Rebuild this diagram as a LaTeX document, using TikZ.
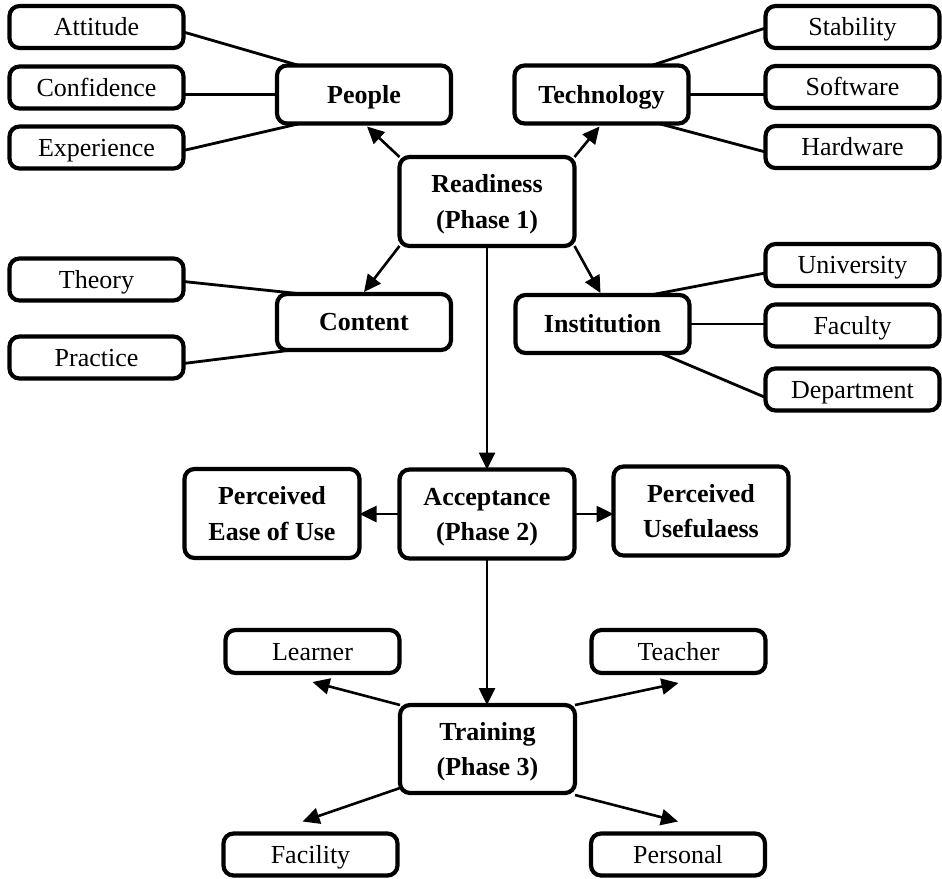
\documentclass[tikz,border=0pt]{standalone}
\usepackage{fontspec}
\setmainfont{Liberation Serif}
\usetikzlibrary{arrows.meta}
\begin{document}
\begin{tikzpicture}[x=1pt,y=-1pt,
  box/.style={draw=black,line width=4.2pt,rounded corners=10pt,inner sep=0pt,outer sep=0pt,
    align=center,text height=17.5pt,text depth=0pt,font=\fontsize{26}{34}\selectfont},
  leaf/.style={box,minimum width=174pt,minimum height=42pt},
  hub/.style={box,font=\fontsize{26}{34}\selectfont\bfseries,minimum width=174pt,minimum height=58pt},
  phase/.style={box,font=\fontsize{26}{35.5}\selectfont\bfseries,text height=53pt,text depth=0pt,
    minimum width=175pt,minimum height=89pt},
  link/.style={line width=2.8pt},
  arr/.style={line width=2.6pt,-{Triangle[length=17pt,width=16pt]}}]
\useasboundingbox (0,0) rectangle (942,878);

% top-left group
\node[leaf] (attitude) at (96.5,27) {Attitude};
\node[leaf] (confidence) at (96.5,87.5) {Confidence};
\node[leaf] (experience) at (96.5,147.5) {Experience};
\node[hub] (people) at (364,94.5) {People};

% top-right group
\node[hub] (technology) at (601.5,94.5) {Technology};
\node[leaf] (stability) at (852.5,27) {Stability};
\node[leaf] (software) at (852.5,87) {Software};
\node[leaf] (hardware) at (852.5,147) {Hardware};

% phase 1
\node[phase] (readiness) at (487,201.5) {Readiness\\(Phase 1)};

% middle-left group
\node[leaf] (theory) at (96.5,279.5) {Theory};
\node[leaf] (practice) at (96.5,357.5) {Practice};
\node[hub,minimum height=56pt] (content) at (364,322) {Content};

% middle-right group
\node[hub] (institution) at (602.5,324) {Institution};
\node[leaf] (university) at (852.5,265) {University};
\node[leaf] (faculty) at (852.5,325.5) {Faculty};
\node[leaf] (department) at (852.5,389.5) {Department};

% phase 2
\node[phase] (ease) at (272,513.5) {Perceived\\Ease of Use};
\node[phase] (acceptance) at (487,514) {Acceptance\\(Phase 2)};
\node[phase] (useful) at (701,511) {Perceived\\Usefulaess};

% phase 3
\node[leaf,minimum height=43pt] (learner) at (312.5,651.5) {Learner};
\node[leaf,minimum height=43pt] (teacher) at (678.5,651.5) {Teacher};
\node[phase,minimum height=88pt] (training) at (487.5,749) {Training\\(Phase 3)};
\node[leaf] (facility) at (310.5,854.5) {Facility};
\node[leaf] (personal) at (678,854.5) {Personal};

% plain links
\draw[link] ([yshift=-5pt]attitude.east) -- ([xshift=22pt]people.north west);
\draw[link] (confidence.east |- people.west) -- (people.west);
\draw[link] ([yshift=-3pt]experience.east) -- ([xshift=23pt]people.south west);

\draw[link] ([xshift=50pt]technology.north) -- ([yshift=-1pt]stability.west);
\draw[link] (technology.east) -- (technology.east -| software.west);
\draw[link] ([xshift=57pt]technology.south) -- ([yshift=-5pt]hardware.west);

\draw[link] ([yshift=-2pt]theory.east) -- ([xshift=25pt]content.north west);
\draw[link] ([yshift=-6pt]practice.east) -- ([xshift=15pt]content.south west);

\draw[link] ([yshift=-8pt]university.west) -- ([xshift=48pt]institution.north);
\draw[link] (institution.east) -- (institution.east -| faculty.west);
\draw[link] ([xshift=58pt]institution.south) -- ([yshift=-8pt]department.west);

% arrows from readiness
\draw[arr] (readiness.north west) -- ([xshift=3pt,yshift=-3pt]people.south);
\draw[arr] (readiness.north east) -- ([xshift=-2pt,yshift=-3pt]technology.south);
\draw[arr] (readiness.south west) -- ([yshift=2pt]content.north);
\draw[arr] (readiness.south east) -- ([xshift=-2pt,yshift=2pt]institution.north);
\draw[arr] (readiness.south) -- (readiness.south |- acceptance.north);

% arrows from acceptance
\draw[arr] (acceptance.west) -- (acceptance.west -| ease.east);
\draw[arr] (acceptance.east) -- (acceptance.east -| useful.west);
\draw[arr] (acceptance.south) -- (acceptance.south |- training.north);

% arrows from training
\draw[arr] (training.north west) -- ([yshift=-9pt]learner.south);
\draw[arr] (training.north east) -- ([yshift=-10pt]teacher.south);
\draw[arr] ([yshift=5pt]training.south west) -- ([xshift=-8pt,yshift=12pt]facility.north);
\draw[arr] ([yshift=-2pt]training.south east) -- ([yshift=12pt]personal.north);
\end{tikzpicture}
\end{document}
